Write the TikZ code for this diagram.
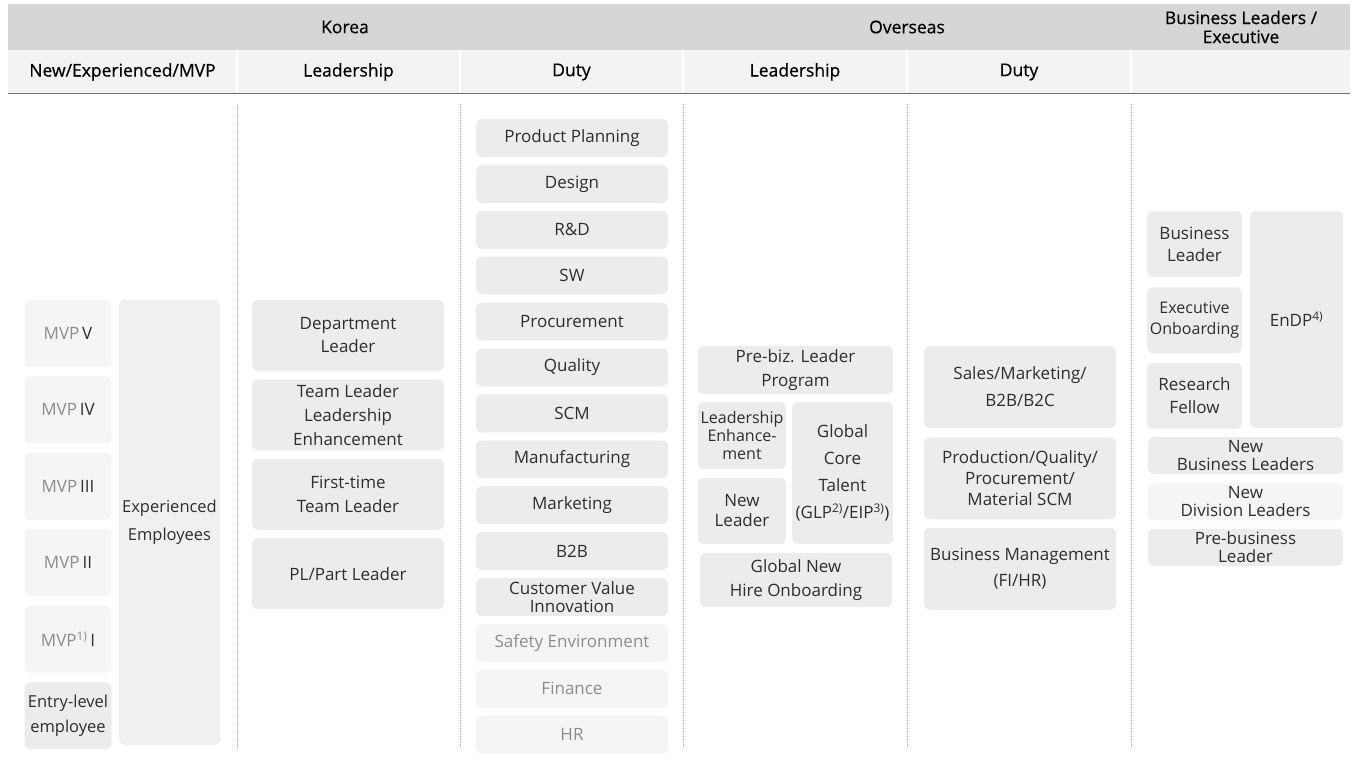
\documentclass[tikz,border=0pt]{standalone}
\usepackage{fontspec}
\setmainfont{Open Sans}
\newfontfamily\headfont[FakeBold=0.6]{Open Sans}
\usetikzlibrary{positioning}

\definecolor{headdark}{HTML}{D6D6D6}
\definecolor{headlight}{HTML}{F3F3F2}
\definecolor{boxgray}{HTML}{ECECEC}
\definecolor{boxpale}{HTML}{F5F5F4}
\definecolor{textdark}{HTML}{2E2E2E}
\definecolor{textpale}{HTML}{8C8C8C}
\definecolor{rulegray}{HTML}{707070}
\definecolor{dotgray}{HTML}{A0A0A0}

\newcommand{\mvplabel}[2]{{\color{textpale}MVP#1}\,#2}

\tikzset{
  prog/.style={rectangle, rounded corners=6pt, fill=boxgray, text=textdark,
    align=center, inner sep=0pt, font=\fontsize{17}{23}\selectfont},
  pale/.style={fill=boxpale, text=textpale},
  tight/.style={font=\fontsize{17}{18}\selectfont},
  loose/.style={font=\fontsize{17}{27}\selectfont},
  mvpbox/.style={prog, pale, text=textdark, minimum width=87pt, minimum height=67pt},
  leadbox/.style={prog, minimum width=192pt, minimum height=71pt},
  dutybox/.style={prog, minimum width=192pt, minimum height=38pt},
  ovdbox/.style={prog, minimum width=192pt, minimum height=82pt},
  execbox/.style={prog, minimum width=95pt, minimum height=66pt},
  widebox/.style={prog, minimum width=195pt, minimum height=37pt},
  headtext/.style={text=black, align=center, font=\headfont\fontsize{17.5}{19}\selectfont},
  colsep/.style={draw=dotgray, line width=0.7pt, dash pattern=on 0.8pt off 1.2pt}
}

\begin{document}
\begin{tikzpicture}[x=1pt, y=-1pt]
	\useasboundingbox (0,0) rectangle (1354,771);

	\fill[headdark] (8,4) rectangle (1350,50);
	\fill[headlight] (8,50) rectangle (1350,93);
	\foreach \sx in {237,460,683,907,1131} {
		\draw[white, line width=1.5pt] (\sx,50) -- (\sx,93);
		\draw[colsep] (\sx,104) -- (\sx,748);
	}
	\draw[rulegray, line width=1.6pt] (8,93.5) -- (1350,93.5);

	\node[headtext] (korea) at (345,27) {Korea};
	\node[headtext] (overseas) at (907,27) {Overseas};
	\node[headtext] (bizexec) at (1241,27) {Business Leaders /\\Executive};
	\node[headtext] (hnew) at (122.5,72) {New/Experienced/MVP};
	\node[headtext] (hklead) at (348.5,72) {Leadership};
	\node[headtext] (hkduty) at (571.5,72) {Duty};
	\node[headtext] (holead) at (795,72) {Leadership};
	\node[headtext] (hoduty) at (1019,72) {Duty};

	\node[mvpbox] (mvpv) at (68,333.5) {\mvplabel{}{V}};
	\node[mvpbox, below=9pt of mvpv] (mvpiv) {\mvplabel{}{IV}};
	\node[mvpbox, below=9pt of mvpiv] (mvpiii) {\mvplabel{}{III}};
	\node[mvpbox, below=9pt of mvpiii] (mvpii) {\mvplabel{}{II}};
	\node[mvpbox, below=9pt of mvpii] (mvpi) {\mvplabel{\textsuperscript{1)}}{I}};
	\node[mvpbox, fill=boxgray, below=9pt of mvpi, font=\fontsize{16.5}{25}\selectfont] (entry) {Entry-level\\employee};
	\node[prog, fill=boxgray!80!white, minimum width=101pt, minimum height=445pt, font=\fontsize{16.5}{28}\selectfont] (exper) at (169.5,522.5) {Experienced\\Employees};

	\node[leadbox] (deptlead) at (348,335.5) {Department\\Leader};
	\node[leadbox, below=8pt of deptlead, font=\fontsize{17}{24}\selectfont] (tlenh) {Team Leader\\Leadership\\Enhancement};
	\node[leadbox, below=8pt of tlenh, font=\fontsize{17}{24}\selectfont] (firsttl) {First-time\\Team Leader};
	\node[leadbox, below=8pt of firsttl] (partlead) {PL/Part Leader};

	\node[dutybox] (plan) at (572,138) {Product Planning};
	\node[dutybox, below=7.5pt of plan] (design) {Design};
	\node[dutybox, below=7.5pt of design] (rnd) {R\&D};
	\node[dutybox, below=7.5pt of rnd] (sw) {SW};
	\node[dutybox, below=7.5pt of sw] (procure) {Procurement};
	\node[dutybox, below=7.5pt of procure] (quality) {Quality};
	\node[dutybox, below=7.5pt of quality] (scm) {SCM};
	\node[dutybox, below=7.5pt of scm] (manuf) {Manufacturing};
	\node[dutybox, below=7.5pt of manuf] (mkt) {Marketing};
	\node[dutybox, below=7.5pt of mkt] (btob) {B2B};
	\node[dutybox, tight, below=7.5pt of btob] (cvi) {Customer Value\\Innovation};
	\node[dutybox, pale, below=7.5pt of cvi] (safety) {Safety Environment};
	\node[dutybox, pale, below=7.5pt of safety] (finance) {Finance};
	\node[dutybox, pale, below=7.5pt of finance] (hr) {HR};

	\node[prog, minimum width=195pt, minimum height=48pt, font=\fontsize{17}{24}\selectfont] (prebizlp) at (795.5,370) {Pre-biz. Leader\\Program};
	\node[prog, minimum width=88pt, minimum height=67pt, font=\fontsize{16}{18}\selectfont] (lenh) at (742,435.5) {Leadership\\Enhance-\\ment};
	\node[prog, minimum width=88pt, minimum height=66pt, font=\fontsize{17}{20}\selectfont] (newlead) at (742,511) {New\\Leader};
	\node[prog, loose, minimum width=101pt, minimum height=142pt] (gct) at (842.5,473) {Global\\Core\\Talent\\(GLP\textsuperscript{2)}/EIP\textsuperscript{3)})};
	\node[prog, minimum width=192pt, minimum height=54pt, font=\fontsize{17}{24}\selectfont] (gnho) at (796,580) {Global New\\Hire Onboarding};

	\node[ovdbox, loose] (sales) at (1020,387) {Sales/Marketing/\\B2B/B2C};
	\node[ovdbox, below=9pt of sales, font=\fontsize{17}{21}\selectfont] (prodq) {Production/Quality/\\Procurement/\\Material SCM};
	\node[ovdbox, below=8pt of prodq, font=\fontsize{17}{26}\selectfont] (bizmgmt) {Business Management\\(FI/HR)};

	\node[execbox, font=\fontsize{17}{22}\selectfont] (bizlead) at (1194.5,244) {Business\\Leader};
	\node[execbox, below=10pt of bizlead, font=\fontsize{16}{21}\selectfont] (execon) {Executive\\Onboarding};
	\node[execbox, below=9pt of execon] (resfel) {Research\\Fellow};
	\node[prog, minimum width=93pt, minimum height=217pt] (endp) at (1296.5,319.5) {EnDP\textsuperscript{4)}};
	\node[widebox, tight] (newbiz) at (1245.5,455.5) {New\\Business Leaders};
	\node[widebox, tight, pale, text=textdark, below=9pt of newbiz] (newdiv) {New\\Division Leaders};
	\node[widebox, tight, below=8pt of newdiv] (prebiz) {Pre-business\\Leader};
\end{tikzpicture}
\end{document}
